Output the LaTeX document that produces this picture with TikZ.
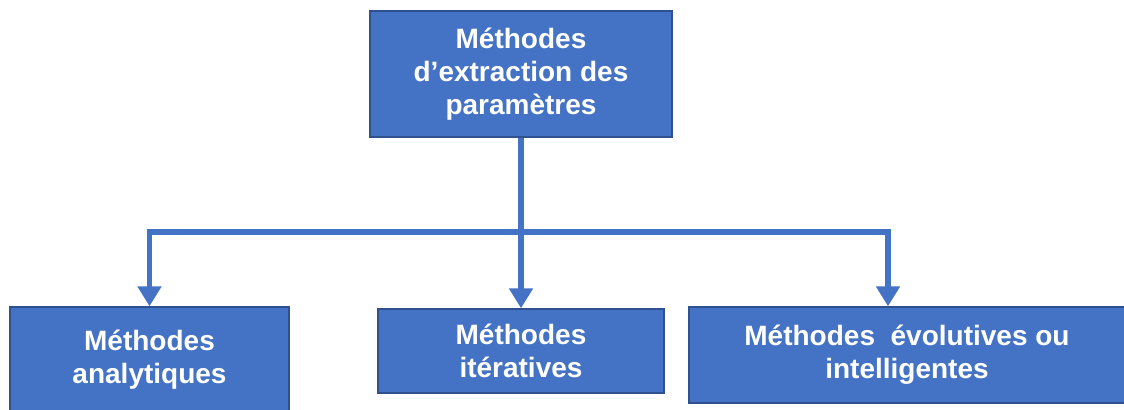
\documentclass[tikz,border=0pt]{standalone}
\usepackage{fontspec}
\setmainfont{Liberation Sans}
\usetikzlibrary{arrows.meta}
\definecolor{boxblue}{HTML}{4472C4}
\definecolor{edgeblue}{HTML}{2F528F}
\begin{document}
\begin{tikzpicture}[x=0.5pt,y=-0.5pt,
  box/.style={draw=edgeblue,line width=0.7pt,fill=boxblue,text=white,
    font=\fontsize{14}{16.5}\selectfont\bfseries,align=center,inner sep=0pt},
  conn/.style={draw=boxblue,line width=2.6pt},
  arr/.style={conn,-{Triangle[width=11.5pt,length=10pt]}}]
\useasboundingbox (0,0) rectangle (1124,410);
\begin{scope}
\clip (0,0) rectangle (1124,410);
\node[box,minimum width=302\pgflinewidth,minimum width=151pt,minimum height=63pt] (top) at (521,74)
  {Méthodes\\d’extraction des\\paramètres};
\node[box,minimum width=139.5pt,minimum height=53pt] (left) at (149.5,360)
  {Méthodes\\analytiques};
\node[box,minimum width=143pt,minimum height=42pt] (mid) at (521,351)
  {Méthodes\\itératives};
\node[box,minimum width=218pt,minimum height=48pt] (right) at (907,355)
  {Méthodes\ \ évolutives ou\\intelligentes};
\end{scope}
\coordinate (busL) at (149.5,232);
\coordinate (busR) at (888,232);
\draw[arr] (top.south) -- (mid.north);
\draw[arr] (top.south |- busL) -- (busL) -- (left.north);
\draw[arr] (top.south |- busR) -- (busR) -- (busR |- right.north);
\end{tikzpicture}
\end{document}
